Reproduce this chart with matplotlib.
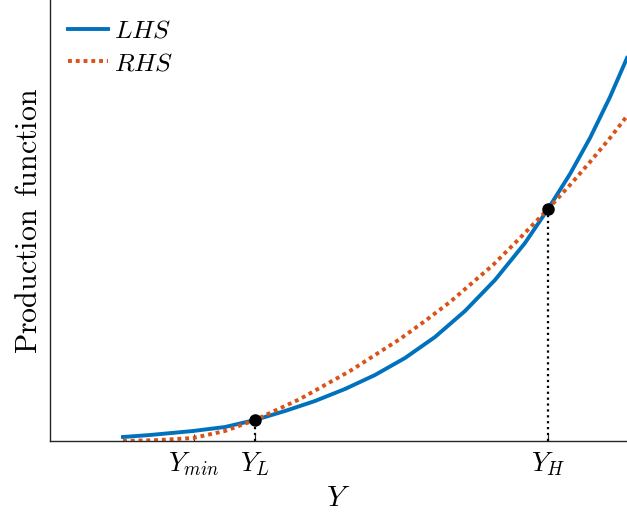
import matplotlib
matplotlib.use("Agg")
import matplotlib.pyplot as plt

plt.rcParams['mathtext.fontset'] = 'cm'

# values (arbitrary units)
y_lhs_x = [0.73, 1.00, 1.43, 1.75, 2.05, 2.35, 2.65, 2.95, 3.25, 3.55, 3.85, 4.15,
           4.45, 4.75, 4.98, 5.20, 5.40, 5.60, 5.77]
lhs = [0.04, 0.06, 0.10, 0.14, 0.21, 0.30, 0.40, 0.52, 0.66, 0.83, 1.04, 1.30,
       1.61, 1.98, 2.32, 2.67, 3.03, 3.44, 3.83]

y_rhs_x = [0.73, 1.10, 1.43, 1.75, 2.05, 2.50, 2.75, 3.00, 3.25, 3.50, 3.75, 4.00,
           4.43, 4.70, 4.98, 5.20, 5.40, 5.60, 5.77]
rhs = [0.0, 0.01, 0.03, 0.10, 0.21, 0.42, 0.56, 0.70, 0.86, 1.02, 1.20, 1.39,
       1.76, 2.03, 2.32, 2.56, 2.79, 3.03, 3.25]

y_min = 1.44
y_low, f_low = 2.05, 0.21
y_high, f_high = 4.98, 2.32

tick_pos = [y_min, y_low, y_high]
tick_labels = [r'$Y_{min}$', r'$Y_L$', r'$Y_H$']

fig = plt.figure(figsize=(6.27, 5.16), dpi=100)
ax = fig.add_axes([50 / 627, 75 / 516, 577 / 627, 441 / 516])

ax.plot(y_lhs_x, lhs, color='#0072BD', lw=2.8, label=r'$LHS$')
ax.plot(y_rhs_x, rhs, color='#D95319', lw=2.8, linestyle=(0, (1, 1)), label=r'$RHS$')

# equilibrium points and drop lines
ax.plot([y_low, y_low], [0, f_low], color='black', lw=1.6, linestyle=':')
ax.plot([y_high, y_high], [0, f_high], color='black', lw=1.6, linestyle=':')
ax.plot([y_low, y_high], [f_low, f_high], 'o', color='black', markersize=8, linestyle='none')

ax.set_xlim(0, 5.77)
ax.set_ylim(0, 4.41)
ax.set_xticks(tick_pos)
ax.set_xticklabels(tick_labels, fontsize=19.5)
ax.set_yticks([])
ax.tick_params(axis='x', direction='in', length=5, width=0.8, color='#262626', pad=7)

for side in ['top', 'right']:
    ax.spines[side].set_visible(False)
for side in ['left', 'bottom']:
    ax.spines[side].set_color('#262626')
    ax.spines[side].set_linewidth(1.0)

ax.set_xlabel(r'$Y$', fontsize=21, labelpad=4)
ax.set_ylabel(r'$\mathrm{Production\ \,function}$', fontsize=21.5, labelpad=5)

ax.legend(loc='upper left', frameon=False, fontsize=18.5, handlelength=1.55,
          handletextpad=0.25, borderaxespad=0.3, labelspacing=0.25)

fig.savefig('out.png', dpi=100)
